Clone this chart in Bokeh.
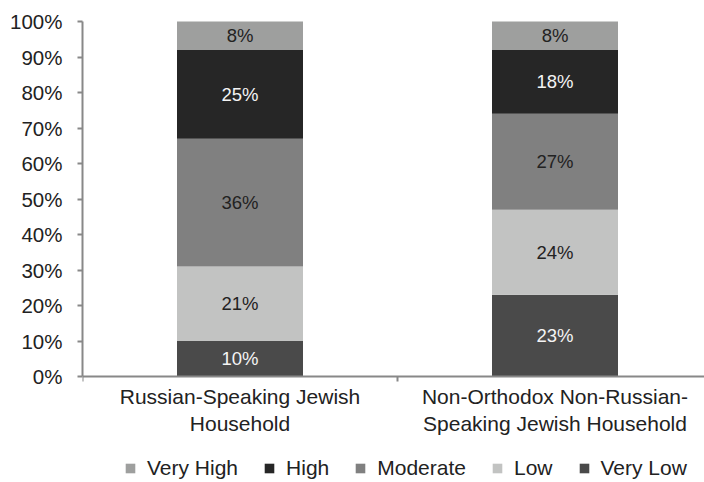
from bokeh.plotting import figure
from bokeh.models import Range1d, FixedTicker, PrintfTickFormatter, Legend, LegendItem, ColumnDataSource
from bokeh.embed import file_html
from bokeh.resources import INLINE
from bokeh.core.properties import value

# ---- data ----
categories = ["Russian-Speaking Jewish\nHousehold", "Non-Orthodox Non-Russian-\nSpeaking Jewish Household"]
levels = ["Very Low", "Low", "Moderate", "High", "Very High"]
very_low = [10, 23]
low = [21, 24]
moderate = [36, 27]
high = [25, 18]
very_high = [8, 8]
y_ticks = [0, 10, 20, 30, 40, 50, 60, 70, 80, 90, 100]

series = {"Very Low": very_low, "Low": low, "Moderate": moderate, "High": high, "Very High": very_high}

# ---- styles / layout ----
colors = {"Very Low": "#4a4a4a", "Low": "#c2c3c2", "Moderate": "#808080",
          "High": "#262626", "Very High": "#9e9f9e"}
label_colors = {"Very Low": "#f4f4f4", "Low": "#222222", "Moderate": "#222222",
                "High": "#f4f4f4", "Very High": "#222222"}
FONT = "Liberation Sans"
AXIS_COLOR = "#888888"
TEXT_COLOR = "#222222"
W, H = 704, 482
LEFT = 82            # y-axis position in px
TOP_PX = 21          # 100% line
BOTTOM_PX = 376      # 0% line
PX_PER_PCT = (BOTTOM_PX - TOP_PX) / 100
PX_PER_CAT = 315

xpos = [i + 0.5 for i in range(len(categories))]
data = {"x": xpos}
data.update(series)
source = ColumnDataSource(data)

p = figure(width=W, height=H, output_backend="svg", toolbar_location=None,
           x_range=Range1d(0, (W - LEFT) / PX_PER_CAT),
           y_range=Range1d(-(H - BOTTOM_PX) / PX_PER_PCT, 100 + TOP_PX / PX_PER_PCT),
           min_border_left=LEFT, min_border_right=0, min_border_top=0, min_border_bottom=0)
p.outline_line_color = None
p.xgrid.visible = False
p.ygrid.visible = False
p.background_fill_color = "white"
p.border_fill_color = "white"

renderers = p.vbar_stack(levels, x="x", width=0.4, source=source,
                         color=[colors[l] for l in levels], line_color=None)
rmap = dict(zip(levels, renderers))

# value labels
cum = [0] * len(categories)
for lvl in levels:
    vals = series[lvl]
    mids = [c + v / 2 for c, v in zip(cum, vals)]
    cum = [c + v for c, v in zip(cum, vals)]
    p.text(x=xpos, y=mids, text=[f"{v}%" for v in vals], text_align="center",
           text_baseline="middle", text_color=label_colors[lvl],
           text_font=value(FONT), text_font_size="18.5px")

# y axis
ya = p.yaxis[0]
ya.bounds = (0, 100)
ya.ticker = FixedTicker(ticks=y_ticks)
ya.formatter = PrintfTickFormatter(format="%d%%")
ya.axis_line_color = AXIS_COLOR
ya.axis_line_width = 2
ya.major_tick_line_color = AXIS_COLOR
ya.major_tick_line_width = 2
ya.major_tick_out = 5
ya.major_tick_in = 0
ya.minor_tick_line_color = None
ya.major_label_standoff = 15
ya.major_label_text_font = FONT
ya.major_label_text_font_size = "20.5px"
ya.major_label_text_color = TEXT_COLOR

# x axis (drawn at y = 0 inside the frame)
xa = p.xaxis[0]
xa.fixed_location = 0
xa.ticker = FixedTicker(ticks=xpos, minor_ticks=list(range(len(categories) + 1)))
xa.major_label_overrides = {x: c for x, c in zip(xpos, categories)}
xa.axis_line_color = AXIS_COLOR
xa.axis_line_width = 2
xa.major_tick_line_color = None
xa.major_tick_out = 0
xa.major_tick_in = 0
xa.minor_tick_line_color = AXIS_COLOR
xa.minor_tick_line_width = 2
xa.minor_tick_out = 5
xa.minor_tick_in = 0
xa.major_label_standoff = 3
xa.major_label_text_font = FONT
xa.major_label_text_font_size = "21px"
xa.major_label_text_color = TEXT_COLOR

# legend
order = ["Very High", "High", "Moderate", "Low", "Very Low"]
legend = Legend(items=[LegendItem(label=l, renderers=[rmap[l]]) for l in order],
                location=(42, 2), orientation="horizontal",
                glyph_width=12, glyph_height=12, label_standoff=11, spacing=25,
                padding=0, margin=0, border_line_color=None, background_fill_alpha=0,
                label_text_font=FONT, label_text_font_size="21px",
                label_text_color=TEXT_COLOR, label_height=20)
p.add_layout(legend)

open("out.html", "w").write(file_html(p, INLINE))
